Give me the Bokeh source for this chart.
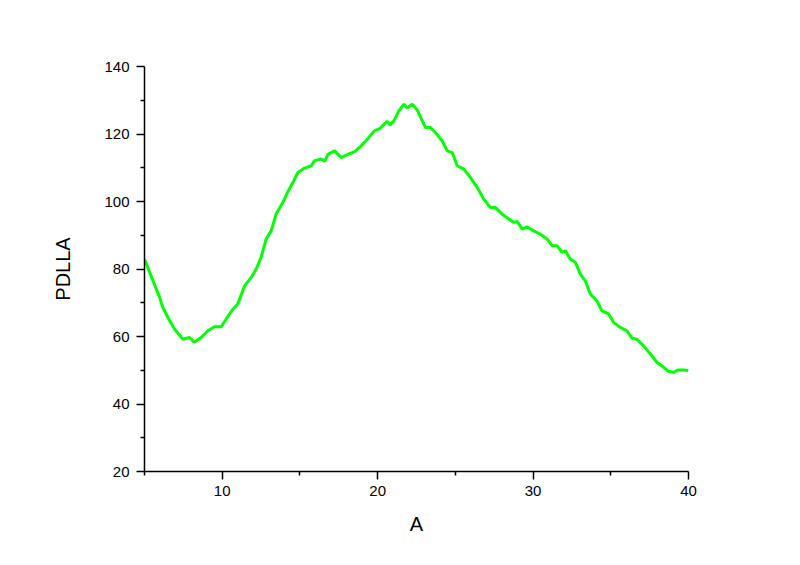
from bokeh.plotting import figure
from bokeh.models import FixedTicker, Range1d
from bokeh.embed import file_html
from bokeh.resources import INLINE

x_vals = [5.0, 5.97, 6.18, 6.5, 6.93, 7.47, 7.9, 8.2, 8.65, 9.08, 9.5, 9.94, 10.26, 10.69,
          11.0, 11.44, 11.87, 12.19, 12.5, 12.83, 13.15, 13.47, 13.9, 14.2, 14.55, 14.87,
          15.3, 15.73, 15.94, 16.37, 16.6, 16.8, 17.23, 17.66, 18.1, 18.5, 18.95, 19.4,
          19.8, 20.15, 20.6, 20.8, 21.05, 21.37, 21.7, 21.9, 22.23, 22.55, 23.08, 23.4,
          23.7, 24.15, 24.48, 24.8, 25.12, 25.55, 25.97, 26.4, 26.83, 27.26, 27.58, 28.0,
          28.44, 28.76, 28.97, 29.3, 29.6, 30.04, 30.47, 30.9, 31.22, 31.54, 31.86, 32.08,
          32.4, 32.72, 33.04, 33.36, 33.68, 34.1, 34.43, 34.86, 35.18, 35.6, 36.04, 36.36,
          36.68, 37.1, 37.55, 37.98, 38.4, 38.7, 39.04, 39.36, 39.68, 40.0]
pdlla = [82.9, 71.6, 68.6, 65.7, 62.2, 59.2, 59.7, 58.3, 59.7, 61.7, 62.9, 62.9, 65.2, 68.1,
         69.6, 75.0, 77.5, 80.0, 83.4, 88.9, 91.3, 96.3, 99.7, 102.7, 105.6, 108.6,
         109.9, 110.6, 112.1, 112.6, 111.9, 114.0, 115.0, 113.0, 114.0, 114.7, 116.5, 118.8,
         121.0, 121.6, 123.8, 122.7, 123.9, 126.9, 128.8, 127.7, 128.8, 127.1, 121.9, 121.9,
         120.5, 118.0, 115.0, 114.5, 110.6, 109.6, 107.1, 104.2, 100.7, 98.2, 98.2, 96.3,
         94.8, 93.8, 94.1, 91.8, 92.5, 91.3, 90.3, 88.9, 86.9, 86.9, 84.9, 85.4,
         82.9, 82.0, 78.5, 76.5, 72.6, 70.6, 67.6, 66.7, 64.2, 62.7, 61.7, 59.5,
         59.2, 57.3, 54.8, 52.3, 50.9, 49.7, 49.4, 50.1, 50.1, 49.9]

x_major = [10, 20, 30, 40]
x_minor = [5, 15, 25, 35]
y_major = [20, 40, 60, 80, 100, 120, 140]
y_minor = [30, 50, 70, 90, 110, 130]

p = figure(width=784, height=549, output_backend="svg", toolbar_location=None,
           x_range=Range1d(5, 40), y_range=Range1d(20, 140),
           min_border_left=144, min_border_right=96, min_border_top=66, min_border_bottom=78)
p.outline_line_color = None
p.grid.visible = False
p.background_fill_color = "white"
p.border_fill_color = "white"

p.line(x_vals, pdlla, line_color="#00FF00", line_width=3)

for ax, maj, mnr, lab in ((p.xaxis[0], x_major, x_minor, "A"), (p.yaxis[0], y_major, y_minor, "PDLLA")):
    ax.ticker = FixedTicker(ticks=maj, minor_ticks=mnr)
    ax.axis_label = lab
    ax.axis_line_width = 1.5
    ax.axis_line_color = "black"
    ax.major_tick_line_color = "black"
    ax.minor_tick_line_color = "black"
    ax.major_tick_line_width = 1.5
    ax.minor_tick_line_width = 1.5
    ax.major_tick_out = 8
    ax.major_tick_in = 0
    ax.minor_tick_out = 4
    ax.minor_tick_in = 0
    ax.major_label_text_font = "Liberation Sans"
    ax.major_label_text_font_size = "15px"
    ax.major_label_text_color = "black"
    ax.axis_label_text_font = "Liberation Sans"
    ax.axis_label_text_font_size = "20px"
    ax.axis_label_text_font_style = "normal"
    ax.axis_label_text_color = "black"

p.xaxis.major_label_standoff = 6
p.xaxis.axis_label_standoff = 14
p.yaxis.major_label_standoff = 7
p.yaxis.axis_label_standoff = 27

open("out.html", "w").write(file_html(p, INLINE))
